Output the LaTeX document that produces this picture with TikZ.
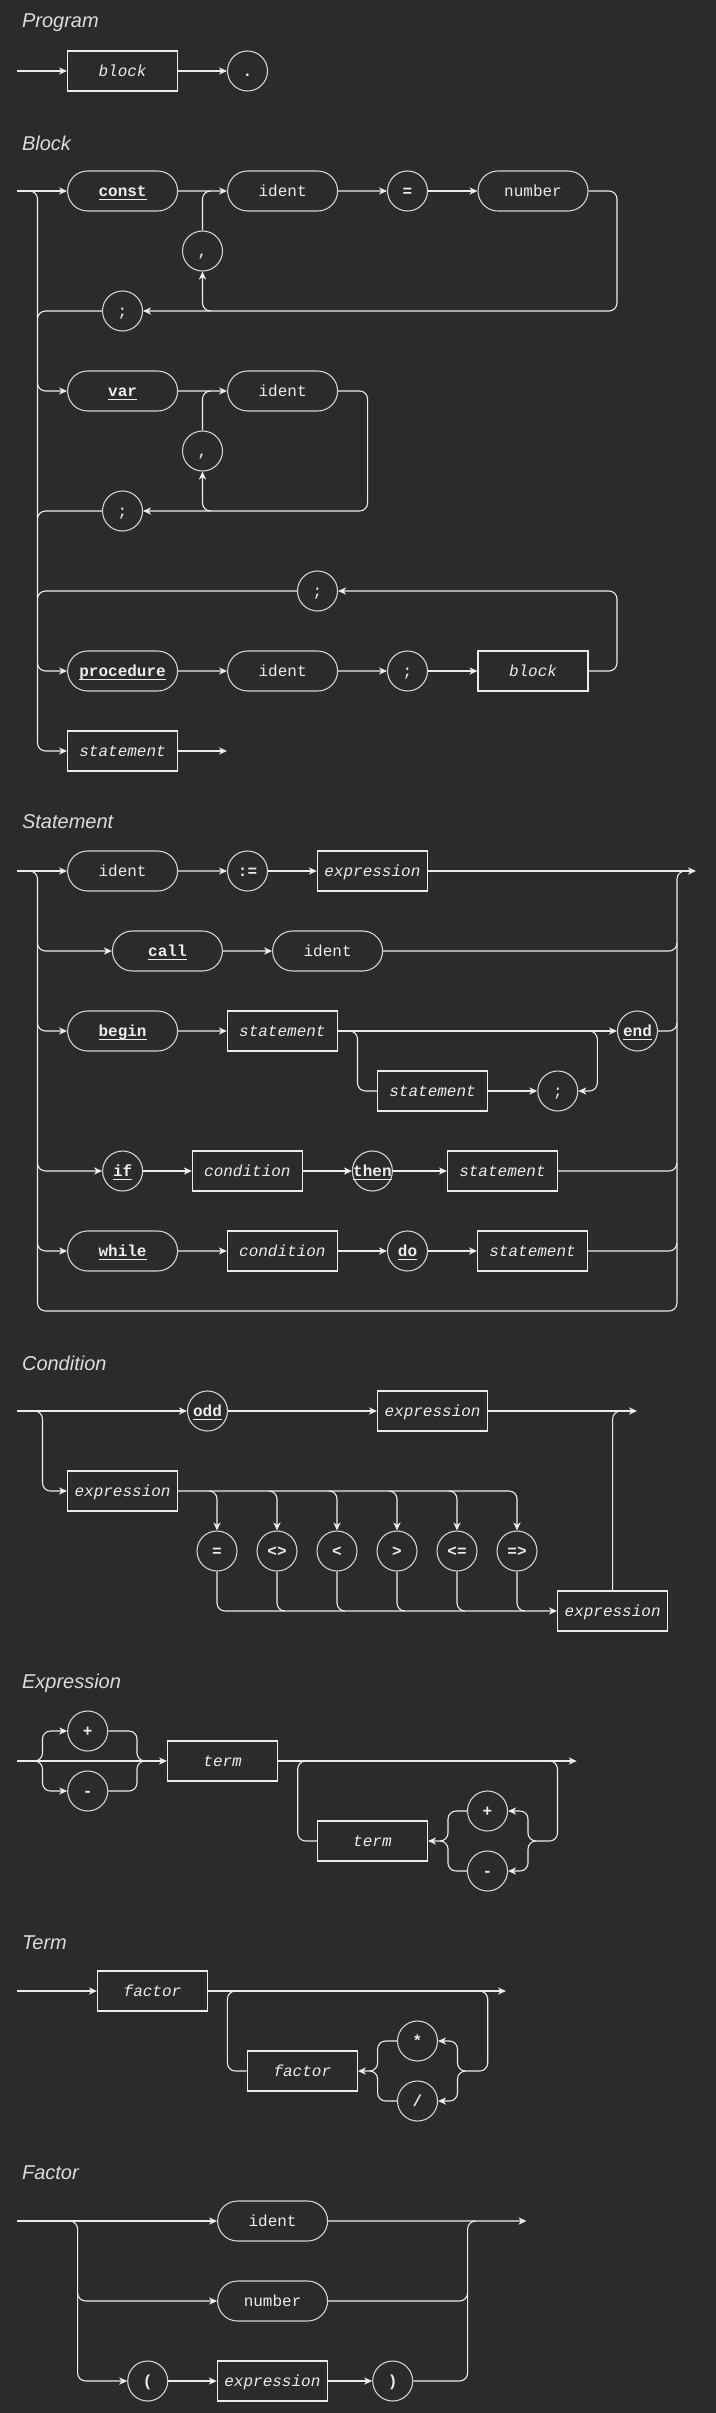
\documentclass[tikz,border=0pt]{standalone}
\usepackage{fontspec}
\setmonofont{Liberation Mono}
\newfontfamily\headfont{Liberation Sans}
\usetikzlibrary{arrows.meta,shapes.misc}
\definecolor{Bg}{HTML}{2B2B2B}
\definecolor{Ink}{HTML}{ECECEC}
\definecolor{Rim}{HTML}{D2D2D2}
\definecolor{Head}{HTML}{DCDCDC}
\newcommand{\kw}[1]{\textbf{\underline{\smash{#1}}}}
\tikzset{
  nt/.style={draw=Ink,line width=.6pt,minimum width=55pt,minimum height=20pt,inner sep=0pt,text=Ink,text height=5.7pt,text depth=0pt,font=\ttfamily\itshape\fontsize{8}{9}\selectfont},
  tm/.style={draw=Rim,line width=.55pt,rounded rectangle,minimum width=55pt,minimum height=20pt,inner sep=0pt,text=Ink,text height=5.7pt,text depth=0pt,font=\ttfamily\fontsize{8}{9}\selectfont},
  sym/.style={draw=Rim,line width=.55pt,circle,minimum size=20pt,inner sep=0pt,text=Ink,text height=5.7pt,text depth=0pt,font=\ttfamily\fontsize{8}{9}\selectfont},
  rail/.style={draw=Ink,line width=.55pt,rounded corners=4pt},
  go/.style={rail,-{Stealth[length=4pt,width=3.6pt,inset=1.2pt]}},
  head/.style={anchor=west,text=Head,font=\headfont\itshape\fontsize{10}{12}\selectfont},
}
\begin{document}
\begin{tikzpicture}[x=.5pt,y=-.5pt]
  \fill[Bg] (0,0) rectangle (716,2413);
  \useasboundingbox (0,0) rectangle (716,2413);

  % program
  \node[head] (h-prog) at (15,23) {Program};
  \coordinate (p-in) at (17,71);
  \node[nt] (p-block) at (122.6,71) {block};
  \node[sym] (p-dot) at (247.5,71) {\textbf{.}};
  \draw[go] (p-in) -- (p-block);
  \draw[go] (p-block) -- (p-dot);

  % block
  \node[head] (h-block) at (15,143) {Block};
  \coordinate (b-in) at (17,191);
  \coordinate (b-fork) at (29.5,191);
  \node[tm] (b-const) at (122.6,191) {\kw{const}};
  \node[tm] (b-cid) at (282.6,191) {ident};
  \node[sym] (b-eq) at (407.5,191) {\textbf{=}};
  \node[tm] (b-num) at (533,191) {number};
  \node[sym] (b-ccom) at (202.5,251) {,};
  \node[sym] (b-csem) at (122.5,311) {;};
  \draw[go] (b-in) -- (b-const);
  \draw[go] (b-const) -- (b-cid);
  \draw[go] (b-cid) -- (b-eq);
  \draw[go] (b-eq) -- (b-num);
  \draw[go] (b-num.east) -| (617,311) -- (b-csem.east);
  \draw[go] (210.5,311) -| (b-ccom.south);
  \draw[rail] (b-ccom.north) |- (210.5,191);
  \draw[rail] (b-csem.west) -| (37.5,319);

  \node[tm] (b-var) at (122.6,391) {\kw{var}};
  \node[tm] (b-vid) at (282.6,391) {ident};
  \node[sym] (b-vcom) at (202.5,451) {,};
  \node[sym] (b-vsem) at (122.5,511) {;};
  \draw[go] (37.5,383) |- (b-var.west);
  \draw[go] (b-var) -- (b-vid);
  \draw[go] (b-vid.east) -| (367.6,511) -- (b-vsem.east);
  \draw[go] (210.5,511) -| (b-vcom.south);
  \draw[rail] (b-vcom.north) |- (210.5,391);
  \draw[rail] (b-vsem.west) -| (37.5,519);

  \node[sym] (b-back) at (317.5,591) {;};
  \node[tm] (b-proc) at (122.6,671) {\kw{procedure}};
  \node[tm] (b-pid) at (282.6,671) {ident};
  \node[sym] (b-psem) at (407.5,671) {;};
  \node[nt] (b-pblk) at (533,671) {block};
  \draw[go] (37.5,663) |- (b-proc.west);
  \draw[go] (b-proc) -- (b-pid);
  \draw[go] (b-pid) -- (b-psem);
  \draw[go] (b-psem) -- (b-pblk);
  \draw[go] (b-pblk.east) -| (617,591) -- (b-back.east);
  \draw[rail] (b-back.west) -| (37.5,599);

  \node[nt] (b-stmt) at (122.6,751) {statement};
  \coordinate (b-out) at (227,751);
  \draw[go] (b-fork) -- (37.5,191) |- (b-stmt.west);
  \draw[go] (b-stmt) -- (b-out);

  % statement
  \node[head] (h-stmt) at (15,822) {Statement};
  \coordinate (s-in) at (17,871);
  \coordinate (s-fork) at (29.5,871);
  \coordinate (s-out) at (696,871);
  \node[tm] (s-id) at (122.6,871) {ident};
  \node[sym] (s-asg) at (247.5,871) {\textbf{:=}};
  \node[nt] (s-exp) at (372.4,871) {expression};
  \draw[go] (s-in) -- (s-id);
  \draw[go] (s-id) -- (s-asg);
  \draw[go] (s-asg) -- (s-exp);
  \draw[go] (s-exp) -- (s-out);
  \draw[rail] (s-fork) -- (37.5,871) |- (677,1311) -- (677,871) -- (685,871);

  \node[tm] (s-call) at (167.4,951) {\kw{call}};
  \node[tm] (s-cid) at (327.6,951) {ident};
  \draw[go] (37.5,943) |- (s-call.west);
  \draw[go] (s-call) -- (s-cid);
  \draw[rail] (s-cid.east) -| (677,943);

  \node[tm] (s-beg) at (122.6,1031) {\kw{begin}};
  \node[nt] (s-bst) at (282.4,1031) {statement};
  \node[sym] (s-end) at (637.5,1031) {\kw{end}};
  \node[nt] (s-lst) at (432.6,1091) {statement};
  \node[sym] (s-lsem) at (557.8,1091) {;};
  \draw[go] (37.5,1023) |- (s-beg.west);
  \draw[go] (s-beg) -- (s-bst);
  \draw[go] (s-bst) -- (s-end);
  \draw[rail] (s-end.east) -| (677,1023);
  \draw[rail] (349.5,1031) -| (357.5,1091) -- (s-lst.west);
  \draw[go] (s-lst) -- (s-lsem);
  \draw[go] (589.3,1031) -| (597.3,1091) -- (s-lsem.east);

  \node[sym] (s-if) at (122.6,1171) {\kw{if}};
  \node[nt] (s-icnd) at (247.4,1171) {condition};
  \node[sym] (s-then) at (372.4,1171) {\kw{then}};
  \node[nt] (s-ist) at (502.5,1171) {statement};
  \draw[go] (37.5,1163) |- (s-if.west);
  \draw[go] (s-if) -- (s-icnd);
  \draw[go] (s-icnd) -- (s-then);
  \draw[go] (s-then) -- (s-ist);
  \draw[rail] (s-ist.east) -| (677,1163);

  \node[tm] (s-whl) at (122.6,1251) {\kw{while}};
  \node[nt] (s-wcnd) at (282.4,1251) {condition};
  \node[sym] (s-do) at (407.5,1251) {\kw{do}};
  \node[nt] (s-wst) at (532.6,1251) {statement};
  \draw[go] (37.5,1243) |- (s-whl.west);
  \draw[go] (s-whl) -- (s-wcnd);
  \draw[go] (s-wcnd) -- (s-do);
  \draw[go] (s-do) -- (s-wst);
  \draw[rail] (s-wst.east) -| (677,1243);

  % condition
  \node[head] (h-cond) at (15,1363) {Condition};
  \coordinate (c-in) at (17,1411);
  \coordinate (c-fork) at (34.5,1411);
  \coordinate (c-out) at (637,1411);
  \node[sym] (c-odd) at (207.5,1411) {\kw{odd}};
  \node[nt] (c-exp) at (432.6,1411) {expression};
  \node[nt] (c-lhs) at (122.6,1491) {expression};
  \node[nt] (c-rhs) at (612.6,1611) {expression};
  \draw[go] (c-in) -- (c-odd);
  \draw[go] (c-odd) -- (c-exp);
  \draw[go] (c-exp) -- (c-out);
  \draw[go] (c-fork) -- (42.5,1411) |- (c-lhs.west);
  \foreach \op [count=\i] in {=,<>,<,>,<=,=>}
    \node[sym] (c-op\i) at (157+60*\i,1551) {\textbf{\op}};
  \draw[go] (c-lhs.east) -| (c-op6.north);
  \draw[go] (c-op1.south) |- (c-rhs.west);
  \foreach \i in {1,...,5}
    \draw[go] (149+60*\i,1491) -| (c-op\i.north);
  \foreach \i in {2,...,6}
    \draw[rail] (c-op\i.south) |- (165+60*\i,1611);
  \draw[rail] (c-rhs.north) |- (620.6,1411);

  % expression
  \node[head] (h-expr) at (15,1683) {Expression};
  \coordinate (e-in) at (17,1761);
  \coordinate (e-fork) at (34.5,1761);
  \coordinate (e-out) at (576.7,1761);
  \node[sym] (e-pos) at (87.7,1731) {\textbf{+}};
  \node[sym] (e-neg) at (87.7,1791) {\textbf{-}};
  \node[nt] (e-term) at (222.6,1761) {term};
  \node[nt] (e-term2) at (372.4,1841) {term};
  \node[sym] (e-add) at (487.5,1811) {\textbf{+}};
  \node[sym] (e-sub) at (487.5,1871) {\textbf{-}};
  \draw[go] (e-in) -- (e-term);
  \draw[go] (e-fork) -- (42.5,1761) |- (e-pos.west);
  \draw[go] (e-fork) -- (42.5,1761) |- (e-neg.west);
  \draw[rail] (e-pos.east) -| (137,1761) -- (145,1761);
  \draw[rail] (e-neg.east) -| (137,1761) -- (145,1761);
  \draw[go] (e-term) -- (e-out);
  \draw[go] (549.5,1761) -| (557.5,1841) -| (528,1811) -- (e-add.east);
  \draw[go] (536,1841) -| (528,1871) -- (e-sub.east);
  \draw[go] (e-add.west) -| (448,1841) -- (e-term2.east);
  \draw[rail] (e-sub.west) -| (448,1841) -- (440,1841);
  \draw[rail] (e-term2.west) -| (297.7,1761) -- (305.7,1761);

  % term
  \node[head] (h-term) at (15,1943) {Term};
  \coordinate (t-in) at (17,1991);
  \coordinate (t-out) at (506,1991);
  \node[nt] (t-fac) at (152.5,1991) {factor};
  \node[nt] (t-fac2) at (302.3,2071) {factor};
  \node[sym] (t-mul) at (417.5,2041) {\textbf{*}};
  \node[sym] (t-div) at (417.5,2101) {\textbf{/}};
  \draw[go] (t-in) -- (t-fac);
  \draw[go] (t-fac) -- (t-out);
  \draw[go] (479.7,1991) -| (487.7,2071) -| (457.5,2041) -- (t-mul.east);
  \draw[go] (465.5,2071) -| (457.5,2101) -- (t-div.east);
  \draw[go] (t-mul.west) -| (377.6,2071) -- (t-fac2.east);
  \draw[rail] (t-div.west) -| (377.6,2071) -- (369.6,2071);
  \draw[rail] (t-fac2.west) -| (227.4,1991) -- (235.4,1991);

  % factor
  \node[head] (h-fact) at (15,2173) {Factor};
  \coordinate (f-in) at (17,2221);
  \coordinate (f-fork) at (69.6,2221);
  \coordinate (f-out) at (526.5,2221);
  \node[tm] (f-id) at (272.6,2221) {ident};
  \node[tm] (f-num) at (272.6,2301) {number};
  \node[sym] (f-lp) at (147.7,2381) {\textbf{(}};
  \node[nt] (f-exp) at (272.4,2381) {expression};
  \node[sym] (f-rp) at (392.7,2381) {\textbf{)}};
  \draw[go] (f-in) -- (f-id);
  \draw[go] (f-id) -- (f-out);
  \draw[go] (f-fork) -- (77.6,2221) |- (f-lp.west);
  \draw[go] (77.6,2293) |- (f-num.west);
  \draw[go] (f-lp) -- (f-exp);
  \draw[go] (f-exp) -- (f-rp);
  \draw[rail] (f-rp.east) -| (467.6,2221) -- (475.6,2221);
  \draw[rail] (f-num.east) -| (467.6,2293);
\end{tikzpicture}
\end{document}
